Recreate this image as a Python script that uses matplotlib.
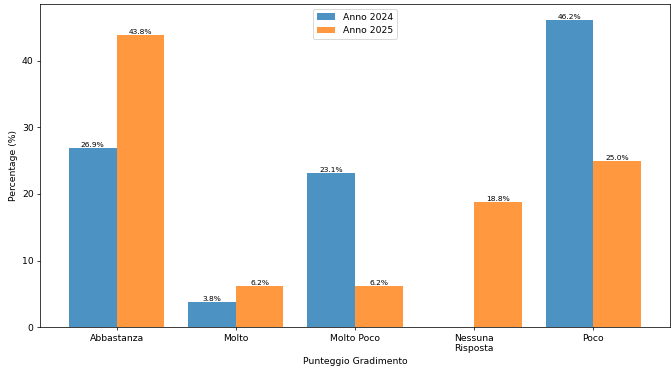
import numpy as np
from matplotlib import pyplot as plt

categories = ['Abbastanza', 'Molto', 'Molto Poco', 'Nessuna\nRisposta', 'Poco']
anno_2024 = [26.9, 3.8, 23.1, 0.0, 46.2]
anno_2025 = [43.8, 6.2, 6.2, 18.8, 25.0]

x = np.arange(len(categories))
width = 0.4

# drawn at 10x5.6 in, rendered at 67.1 dpi -> 671x376 px
fig, ax = plt.subplots(figsize=(10, 376 / 67.1), dpi=67.1)
b1 = ax.bar(x - width / 2, anno_2024, width, label='Anno 2024', color='tab:blue', alpha=0.8)
b2 = ax.bar(x + width / 2, anno_2025, width, label='Anno 2025', color='tab:orange', alpha=0.8)

for bars in (b1, b2):
    for rect in bars:
        h = rect.get_height()
        if h > 0:
            ax.text(rect.get_x() + rect.get_width() / 2, h, f'{h:.1f}%',
                    ha='center', va='bottom', fontsize=8)

ax.set_xticks(x)
ax.set_xticklabels(categories)
ax.set_xlabel('Punteggio Gradimento')
ax.set_ylabel('Percentage (%)')
ax.legend(loc='upper center')

plt.subplots_adjust(left=0.06, right=0.998, top=0.989, bottom=0.13)
plt.savefig('out.png', dpi=67.1)
